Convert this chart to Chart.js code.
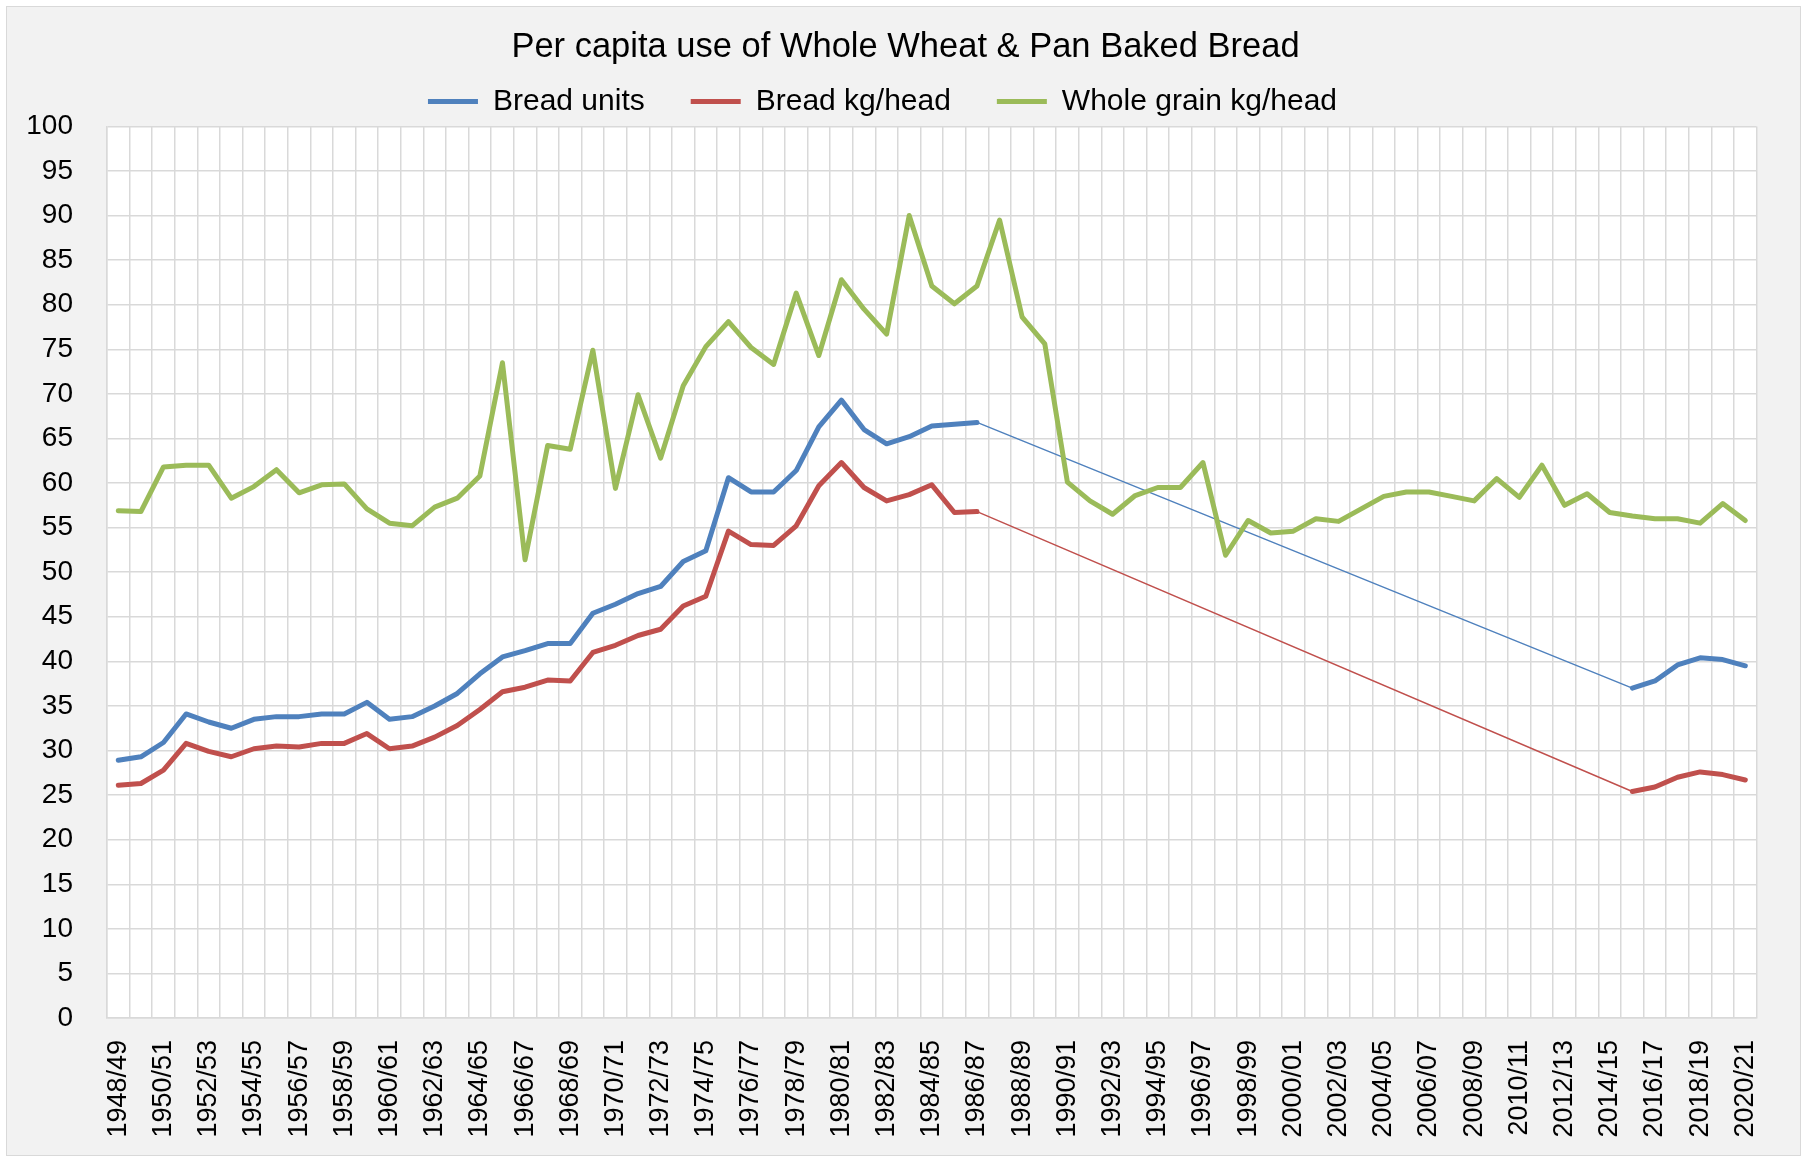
<!DOCTYPE html>
<html>
<head>
<meta charset="utf-8">
<title>Per capita use of Whole Wheat &amp; Pan Baked Bread</title>
<style>
  body { margin: 0; background: #ffffff; }
  #box {
    position: absolute; left: 6px; top: 6px;
    width: 1793px; height: 1148px;
    border: 1px solid #d9d9d9;        /* outer frame of the chart */
    background: #f2f2f2;
  }
</style>
</head>
<body>
<div id="box"><canvas id="chart" width="1793" height="1148"></canvas></div>
<script src="https://cdn.jsdelivr.net/npm/chart.js"></script>
<script>
// categories
const years = [
  '1948/49','1949/50','1950/51','1951/52','1952/53','1953/54','1954/55','1955/56','1956/57','1957/58',
  '1958/59','1959/60','1960/61','1961/62','1962/63','1963/64','1964/65','1965/66','1966/67','1967/68',
  '1968/69','1969/70','1970/71','1971/72','1972/73','1973/74','1974/75','1975/76','1976/77','1977/78',
  '1978/79','1979/80','1980/81','1981/82','1982/83','1983/84','1984/85','1985/86','1986/87','1987/88',
  '1988/89','1989/90','1990/91','1991/92','1992/93','1993/94','1994/95','1995/96','1996/97','1997/98',
  '1998/99','1999/00','2000/01','2001/02','2002/03','2003/04','2004/05','2005/06','2006/07','2007/08',
  '2008/09','2009/10','2010/11','2011/12','2012/13','2013/14','2014/15','2015/16','2016/17','2017/18',
  '2018/19','2019/20','2020/21'
];

// Bread units: 1948/49 - 1986/87, then 2015/16 - 2020/21 (no data between)
const unitsEarly = [28.9, 29.3, 30.9, 34.1, 33.2, 32.5, 33.5, 33.8, 33.8, 34.1,
  34.1, 35.4, 33.5, 33.8, 35.0, 36.4, 38.6, 40.5, 41.2, 42.0,
  42.0, 45.4, 46.4, 47.6, 48.4, 51.2, 52.4, 60.6, 59.0, 59.0,
  61.4, 66.3, 69.3, 66.0, 64.4, 65.2, 66.4, 66.6, 66.8];
const unitsLate = [37.0, 37.8, 39.6, 40.4, 40.2, 39.5];

// Bread kg/head
const kgEarly = [26.1, 26.3, 27.8, 30.8, 29.9, 29.3, 30.2, 30.5, 30.4, 30.8,
  30.8, 31.9, 30.2, 30.5, 31.5, 32.8, 34.6, 36.6, 37.1, 37.9,
  37.8, 41.0, 41.8, 42.9, 43.6, 46.2, 47.3, 54.6, 53.1, 53.0,
  55.2, 59.7, 62.3, 59.5, 58.0, 58.7, 59.8, 56.7, 56.8];
const kgLate = [25.4, 25.9, 27.0, 27.6, 27.3, 26.7];

// Whole grain kg/head, all years
const wholeGrain = [56.9, 56.8, 61.8, 62.0, 62.0, 58.3, 59.6, 61.5, 58.9, 59.8,
  59.9, 57.1, 55.5, 55.2, 57.3, 58.3, 60.8, 73.5, 51.4, 64.2,
  63.8, 74.9, 59.4, 69.9, 62.8, 70.9, 75.3, 78.1, 75.2, 73.3,
  81.3, 74.3, 82.8, 79.5, 76.7, 90.0, 82.1, 80.1, 82.1, 89.5,
  78.6, 75.6, 60.1, 58.0, 56.5, 58.6, 59.5, 59.5, 62.3, 51.9,
  55.8, 54.4, 54.6, 56.0, 55.7, 57.1, 58.5, 59.0, 59.0, 58.5,
  58.0, 60.5, 58.4, 62.0, 57.5, 58.8, 56.7, 56.3, 56.0, 56.0,
  55.5, 57.7, 55.8];

const yMin = 0, yMax = 100, yStep = 5;

// fill the missing years with nulls so both parts sit on the right categories
function withGap(early, late) {
  const gap = years.length - early.length - late.length;
  return early.concat(new Array(gap).fill(null), late);
}

const font = "'Liberation Sans', Arial, sans-serif";
Chart.defaults.color = '#000000';

// white plot area on the grey chart background
const plotBg = {
  id: 'plotBg',
  beforeDraw(chart) {
    const a = chart.chartArea, c = chart.ctx;
    c.save();
    c.fillStyle = '#ffffff';
    c.fillRect(a.left, a.top, a.right - a.left, a.bottom - a.top);
    c.restore();
  }
};

// the right padding pulls the title off-centre; put it back over the whole canvas
const centreTitle = {
  id: 'centreTitle',
  afterLayout(chart) {
    const t = chart.titleBlock;
    if (t) { t.left += 23; t.right += 23; }
  }
};

// thin line across the years without data
const thinGap = ctx => (ctx.p0.skip || ctx.p1.skip ? 1.5 : 5);

new Chart(document.getElementById('chart'), {
  type: 'line',
  data: {
    labels: years,
    datasets: [
      { label: 'Bread units', data: withGap(unitsEarly, unitsLate), borderColor: '#4f81bd',
        borderWidth: 5, spanGaps: true, segment: { borderWidth: thinGap }, order: 2 },
      { label: 'Bread kg/head', data: withGap(kgEarly, kgLate), borderColor: '#c0504d',
        borderWidth: 5, spanGaps: true, segment: { borderWidth: thinGap }, order: 1 },
      { label: 'Whole grain kg/head', data: wholeGrain, borderColor: '#9bbb59',
        borderWidth: 5, order: 0 }
    ]
  },
  options: {
    responsive: false,
    animation: false,
    layout: { padding: { left: 0, right: 42, top: 0, bottom: 0 } },
    elements: {
      line: { tension: 0, borderJoinStyle: 'round', borderCapStyle: 'round' },
      point: { radius: 0, hoverRadius: 0 }
    },
    plugins: {
      title: {
        display: true,
        text: 'Per capita use of Whole Wheat & Pan Baked Bread',
        font: { family: font, size: 34.5, weight: 'normal' },
        color: '#000000',
        padding: { top: 20, bottom: -28 }
      },
      legend: {
        position: 'top',
        labels: {
          usePointStyle: true,
          pointStyle: 'line',
          pointStyleWidth: 50,
          padding: 46,
          font: { family: font, size: 30 },
          color: '#000000',
          sort: (a, b) => a.datasetIndex - b.datasetIndex
        }
      },
      tooltip: { enabled: false }
    },
    scales: {
      x: {
        offset: true,
        grid: { offset: true, color: '#d9d9d9', lineWidth: 1.5, drawTicks: false },
        border: { color: '#d9d9d9', width: 1.5 },
        ticks: {
          autoSkip: false,
          minRotation: 90,
          maxRotation: 90,
          padding: 22,
          font: { family: font, size: 27 },
          color: '#000000',
          callback: (v, i) => (i % 2 === 0 ? years[i] : '')
        },
        afterFit: axis => { axis.height = 137; }
      },
      y: {
        min: yMin,
        max: yMax,
        grid: { color: '#d9d9d9', lineWidth: 1.5, drawTicks: false },
        border: { color: '#d9d9d9', width: 1.5 },
        ticks: {
          stepSize: yStep,
          padding: 34,
          font: { family: font, size: 28 },
          color: '#000000'
        },
        afterFit: axis => { axis.width = 100; }
      }
    }
  },
  plugins: [plotBg, centreTitle]
});
</script>
</body>
</html>
